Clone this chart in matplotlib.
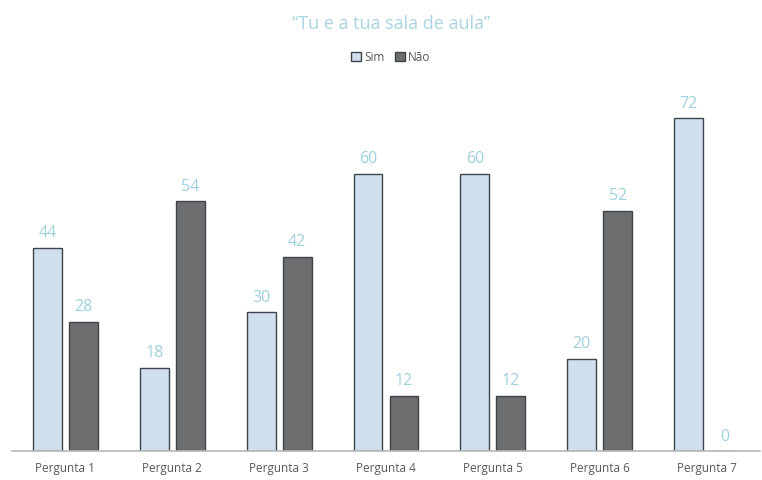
import numpy as np
import matplotlib.pyplot as plt

categorias = ['Pergunta 1', 'Pergunta 2', 'Pergunta 3', 'Pergunta 4',
              'Pergunta 5', 'Pergunta 6', 'Pergunta 7']
sim = [44, 18, 30, 60, 60, 20, 72]
nao = [28, 54, 42, 12, 12, 52, 0]

plt.rcParams['font.family'] = ['Open Sans', 'DejaVu Sans']

fig = plt.figure(figsize=(7.62, 4.80), dpi=100)
ax = fig.add_axes([12 / 762, 29 / 480, 748 / 762, 370 / 480])

x = np.arange(len(categorias))
w = 0.27
off = 0.168
label_cor = '#9fd0de'

b1 = ax.bar(x - off, sim, w, color='#cfdfee', edgecolor='#3f4448', linewidth=1.0, label='Sim')
b2 = ax.bar(x + off, nao, w, color='#6b6d6f', edgecolor='#3f4448', linewidth=1.0, label='Não')

for bars, vals in ((b1, sim), (b2, nao)):
    for b, v in zip(bars, vals):
        ax.text(b.get_x() + b.get_width() / 2, v + 1.4, str(v), ha='center', va='bottom',
                fontsize=11.5, color=label_cor)

ax.set_xlim(-0.5, len(categorias) - 0.5)
ax.set_ylim(0, 80)
ax.set_xticks(x)
ax.set_xticklabels(categorias, fontsize=8.5, color='#595959')
ax.tick_params(axis='x', length=0, pad=8)
ax.set_yticks([])
for s in ['top', 'right', 'left']:
    ax.spines[s].set_visible(False)
ax.spines['bottom'].set_color('#b8b8b8')
ax.spines['bottom'].set_linewidth(1.2)

fig.text(0.513, 0.951, '“Tu e a tua sala de aula”', ha='center', va='center',
         fontsize=13, color='#a9d5e2')
fig.legend(handles=[b1, b2], loc='center', bbox_to_anchor=(0.513, 0.881), ncol=2,
           frameon=False, fontsize=8.5, handlelength=0.8, handleheight=0.8,
           handletextpad=0.3, columnspacing=0.9, labelcolor='#595959')

fig.savefig('out.png', dpi=100)
